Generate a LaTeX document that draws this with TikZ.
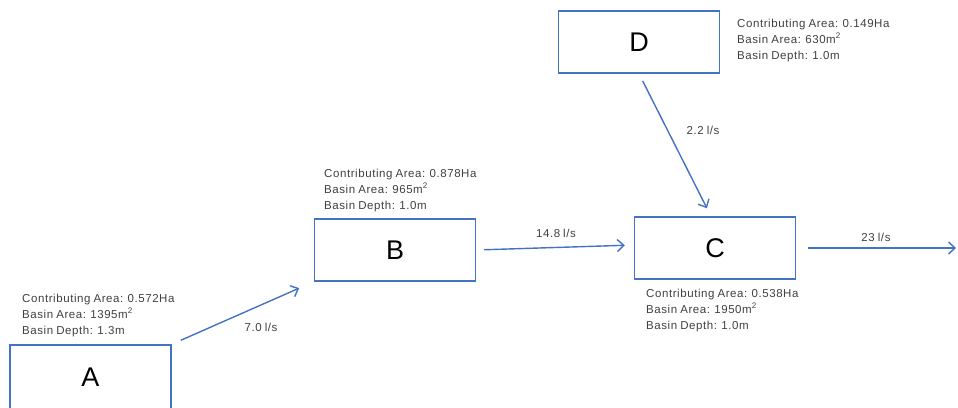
\documentclass[tikz,border=0pt]{standalone}
\usepackage{fontspec}
\setmainfont{Liberation Sans}
\newfontfamily\infofont[LetterSpace=5,WordSpace=0.8]{Liberation Sans}
\usetikzlibrary{arrows.meta}
\definecolor{flowblue}{RGB}{68,114,196}
\definecolor{infogrey}{RGB}{64,64,64}

\begin{document}
\begin{tikzpicture}[x=1pt, y=-1pt, >={Straight Barb[length=6.5pt,width=12pt]},
    basin/.style={draw=flowblue, line width=1.4pt, minimum width=161pt, minimum height=62pt,
        inner sep=0pt, font=\fontsize{27}{27}\selectfont},
    info/.style={anchor=north west, align=left, inner sep=0pt, text=infogrey,
        font=\infofont\fontsize{11.5}{15.8}\selectfont},
    rate/.style={text=infogrey, inner sep=0pt, font=\infofont\fontsize{11.5}{12}\selectfont},
    flow/.style={->, draw=flowblue, line width=1.4pt}]
    \useasboundingbox (0,0) rectangle (958,407);

    \node[basin, minimum height=64pt] (A) at (90.5,377) {A};
    \node[basin] (B) at (395,250) {B};
    \node[basin] (C) at (715,248) {C};
    \node[basin] (D) at (639,42) {D};
    \coordinate (out) at (956,248);

    \node[info] (infoA) at (22,294) {Contributing Area: 0.572Ha\\Basin Area: 1395m\textsuperscript{2}\\Basin Depth: 1.3m};
    \node[info] (infoB) at (324,169) {Contributing Area: 0.878Ha\\Basin Area: 965m\textsuperscript{2}\\Basin Depth: 1.0m};
    \node[info] (infoC) at (646,289) {Contributing Area: 0.538Ha\\Basin Area: 1950m\textsuperscript{2}\\Basin Depth: 1.0m};
    \node[info] (infoD) at (737,19) {Contributing Area: 0.149Ha\\Basin Area: 630m\textsuperscript{2}\\Basin Depth: 1.0m};

    \path
    (A.north east) edge[flow, shorten <=10pt, shorten >=16pt] (B.south west)
    (B.east) edge[flow, shorten <=8pt, shorten >=9pt] ([yshift=3pt]C.west)
    (D.south) edge[flow, shorten <=8pt, shorten >=9pt] ([xshift=-4pt]C.north)
    (C.east) edge[flow, shorten <=12pt] (out);

    \node[rate] (r1) at (261,327) {7.0 l/s};
    \node[rate] (r2) at (556,233) {14.8 l/s};
    \node[rate] (r3) at (703,130) {2.2 l/s};
    \node[rate] (r4) at (876,237) {23 l/s};
\end{tikzpicture}
\end{document}
